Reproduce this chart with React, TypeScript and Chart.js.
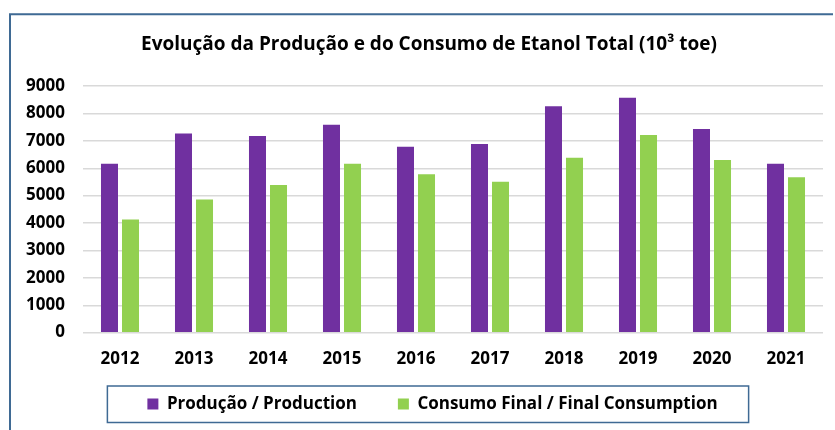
import React, { useEffect, useRef } from 'react';
import { Chart, registerables } from 'chart.js';

Chart.register(...registerables);

const years = ['2012', '2013', '2014', '2015', '2016', '2017', '2018', '2019', '2020', '2021'];
const production = [6165, 7270, 7175, 7590, 6785, 6880, 8260, 8575, 7430, 6165];
const consumption = [4125, 4855, 5390, 6165, 5775, 5510, 6385, 7210, 6300, 5670];
const seriesNames = ['Produção / Production', 'Consumo Final / Final Consumption'];
const seriesColors = ['#7030A0', '#92D050'];
const yMax = 9000;
const yStep = 1000;
const titleText = 'Evolução da Produção e do Consumo de Etanol Total (10³ toe)';

const FONT = '"Open Sans", Lato, sans-serif';
const FRAME = '#3f6a94';

const framePlugin = {
  id: 'framePlugin',
  afterLayout(chart: any) {
    const lg = chart.legend;
    if (lg) {
      lg.left += 8.5;
      lg.right += 8.5;
    }
    const tt = chart.titleBlock;
    if (tt) {
      tt.left += 5;
      tt.right += 5;
    }
  },
  beforeDraw(chart: any) {
    const ctx = chart.ctx;
    ctx.save();
    ctx.strokeStyle = FRAME;
    ctx.lineWidth = 2;
    ctx.beginPath();
    ctx.moveTo(10, chart.height + 5);
    ctx.lineTo(10, 14.3);
    ctx.lineTo(833, 14.3);
    ctx.stroke();
    ctx.restore();
  },
  afterDraw(chart: any) {
    const lg = chart.legend;
    if (!lg || !lg.legendHitBoxes || !lg.legendHitBoxes.length) return;
    const boxes = lg.legendHitBoxes;
    const first = boxes[0];
    const last = boxes[boxes.length - 1];
    const cy = first.top + first.height / 2;
    const left = first.left - 40;
    const right = last.left + last.width + 31;
    const ctx = chart.ctx;
    ctx.save();
    ctx.strokeStyle = FRAME;
    ctx.lineWidth = 1.5;
    ctx.strokeRect(left, cy - 18, right - left, 36.5);
    ctx.restore();
  },
};

export default function App() {
  const ref = useRef<HTMLCanvasElement | null>(null);

  useEffect(() => {
    if (!ref.current) return;
    const chart = new Chart(ref.current, {
      type: 'bar',
      data: {
        labels: years,
        datasets: [
          {
            label: seriesNames[0],
            data: production,
            backgroundColor: seriesColors[0],
            categoryPercentage: 0.568,
            barPercentage: 0.81,
          },
          {
            label: seriesNames[1],
            data: consumption,
            backgroundColor: seriesColors[1],
            categoryPercentage: 0.568,
            barPercentage: 0.81,
          },
        ],
      },
      options: {
        responsive: false,
        animation: false,
        layout: { padding: { top: 0, left: 25, right: 12, bottom: 7.5 } },
        plugins: {
          title: {
            display: true,
            text: titleText,
            color: '#000',
            font: { family: FONT, size: 19, weight: 'bold', lineHeight: 1.2 },
            padding: { top: 33.5, bottom: 29.7 },
          },
          legend: {
            display: true,
            position: 'bottom',
            labels: {
              color: '#000',
              boxWidth: 11,
              boxHeight: 11,
              padding: 10,
              font: { family: FONT, size: 17, weight: 'bold', lineHeight: 1.2 },
              generateLabels: (c: any) => {
                const items = Chart.defaults.plugins.legend.labels.generateLabels(c);
                return items.map((it: any, i: number) =>
                  i < items.length - 1 ? { ...it, text: it.text + '       ' } : it
                );
              },
            },
          },
          tooltip: { enabled: false },
        },
        scales: {
          x: {
            grid: { display: false, drawTicks: false },
            border: { display: false },
            ticks: {
              color: '#000',
              padding: 16.5,
              font: { family: FONT, size: 17, weight: 'bold', lineHeight: 1.2 },
            },
            afterFit: (s: any) => {
              s.height = 52.9;
            },
          },
          y: {
            min: 0,
            max: yMax,
            grid: { color: '#d9d9d9', lineWidth: 1.4, drawTicks: false },
            border: { display: false },
            ticks: {
              stepSize: yStep,
              color: '#000',
              padding: 18,
              font: { family: FONT, size: 17, weight: 'bold', lineHeight: 1.2 },
              callback: (v: any) => String(v),
            },
            afterFit: (s: any) => {
              s.width = 58;
            },
          },
        },
      },
      plugins: [framePlugin],
    });
    return () => chart.destroy();
  }, []);

  return (
    <div style={{ position: 'fixed', left: 0, top: 0, width: 835, height: 430, background: '#fff' }}>
      <canvas ref={ref} width={835} height={430} style={{ display: 'block' }} />
    </div>
  );
}
